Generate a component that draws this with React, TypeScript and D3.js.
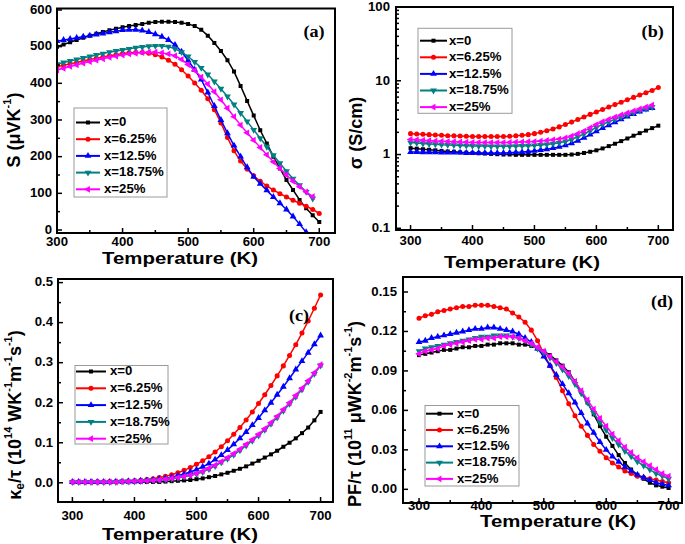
import React from 'react';
import * as d3 from 'd3';

const TEMPS = [300, 310, 320, 330, 340, 350, 360, 370, 380, 390, 400, 410, 420, 430, 440, 450, 460, 470, 480, 490, 500,
  510, 520, 530, 540, 550, 560, 570, 580, 590, 600, 610, 620, 630, 640, 650, 660, 670, 680, 690, 700];

const LABELS = ['x=0', 'x=6.25%', 'x=12.5%', 'x=18.75%', 'x=25%'];
const COLORS = ['#000000', '#ff0000', '#0000ff', '#008080', '#ff00ff'];
const SHAPES = ['square', 'circle', 'triUp', 'triDown', 'triLeft'];

const X_TICKS = [300, 400, 500, 600, 700];
const X_MINOR = [350, 450, 550, 650];

// (a) Seebeck coefficient S (µV/K)
const S_X0 = [500, 506, 512, 518, 524, 530, 535, 540, 545, 549, 553, 556, 559, 562, 565, 567, 568, 568, 567, 565,
  562, 556, 546, 530, 510, 488, 463, 432, 393, 352, 312, 272, 236, 200, 168, 136, 109, 82, 59, 40, 22];
const S_X625 = [445, 449, 453, 457, 461, 465, 468, 472, 475, 478, 481, 483, 484, 484, 482, 478, 472, 463, 452, 437,
  420, 401, 381, 358, 328, 292, 252, 216, 188, 166, 148, 133, 120, 109, 99, 90, 81, 73, 65, 56, 45];
const S_X125 = [515, 518, 521, 524, 527, 530, 533, 536, 539, 542, 545, 546, 546, 544, 540, 534, 527, 518, 505, 486,
  462, 437, 410, 375, 338, 300, 264, 230, 200, 171, 145, 126, 108, 90, 73, 56, 37, 16, -6];
const S_X1875 = [452, 457, 461, 465, 469, 473, 477, 481, 485, 488, 491, 494, 497, 499, 501, 502, 502, 500, 494, 485,
  473, 458, 442, 424, 405, 385, 364, 342, 319, 296, 273, 250, 227, 204, 182, 160, 140, 122, 104, 86];
const S_X25 = [436, 441, 446, 450, 455, 459, 463, 467, 471, 474, 477, 480, 482, 484, 485, 485, 483, 480, 475, 465,
  451, 435, 417, 398, 377, 355, 332, 309, 286, 265, 245, 225, 205, 186, 168, 150, 133, 118, 104, 91];

// (b) electrical conductivity sigma (S/cm)
const SIG_X0 = [1.22, 1.20, 1.18, 1.16, 1.14, 1.12, 1.10, 1.09, 1.07, 1.06, 1.05, 1.04, 1.03, 1.02, 1.01,
  1.00, 1.00, 0.99, 0.99, 0.99, 0.99, 0.99, 0.99, 0.99, 0.99, 0.99, 1.00, 1.02, 1.05, 1.09,
  1.14, 1.21, 1.30, 1.40, 1.52, 1.65, 1.80, 1.95, 2.11, 2.28, 2.46];
const SIG_X625 = [1.92, 1.90, 1.88, 1.86, 1.84, 1.82, 1.80, 1.79, 1.78, 1.77, 1.76, 1.76, 1.75, 1.75, 1.75,
  1.76, 1.77, 1.79, 1.82, 1.86, 1.92, 2.00, 2.10, 2.22, 2.37, 2.55, 2.75, 2.98, 3.23, 3.50,
  3.78, 4.08, 4.40, 4.75, 5.12, 5.52, 5.95, 6.40, 6.87, 7.40, 8.10];
const SIG_X125 = [1.08, 1.08, 1.07, 1.07, 1.07, 1.06, 1.06, 1.06, 1.06, 1.05, 1.05, 1.05, 1.05, 1.05, 1.05,
  1.05, 1.06, 1.07, 1.08, 1.10, 1.12, 1.15, 1.18, 1.22, 1.27, 1.33, 1.42, 1.54, 1.68, 1.86,
  2.06, 2.28, 2.50, 2.74, 3.00, 3.28, 3.55, 3.82, 4.06, 4.28];
const SIG_X1875 = [1.45, 1.43, 1.41, 1.39, 1.38, 1.36, 1.35, 1.34, 1.33, 1.32, 1.31, 1.30, 1.30, 1.29, 1.29,
  1.29, 1.29, 1.30, 1.31, 1.32, 1.33, 1.35, 1.37, 1.40, 1.44, 1.50, 1.60, 1.74, 1.90, 2.10,
  2.33, 2.56, 2.78, 3.00, 3.22, 3.45, 3.70, 3.95, 4.18, 4.40];
const SIG_X25 = [1.60, 1.58, 1.56, 1.54, 1.52, 1.51, 1.50, 1.49, 1.48, 1.47, 1.46, 1.46, 1.45, 1.45, 1.45,
  1.45, 1.46, 1.47, 1.48, 1.49, 1.50, 1.52, 1.55, 1.58, 1.62, 1.68, 1.78, 1.92, 2.08, 2.30,
  2.55, 2.78, 3.00, 3.22, 3.44, 3.66, 3.90, 4.15, 4.40, 4.68];

// (c) electronic thermal conductivity kappa_e / tau
const KE_X0 = [0.002, 0.002, 0.002, 0.002, 0.002, 0.002, 0.002, 0.002, 0.002, 0.002, 0.002, 0.002, 0.002, 0.002, 0.002,
  0.003, 0.004, 0.005, 0.006, 0.007, 0.009, 0.011, 0.014, 0.017, 0.021, 0.025, 0.030, 0.035, 0.041, 0.048,
  0.055, 0.063, 0.071, 0.080, 0.090, 0.100, 0.111, 0.124, 0.138, 0.156, 0.177];
const KE_X625 = [0.002, 0.002, 0.002, 0.002, 0.002, 0.002, 0.003, 0.003, 0.004, 0.004, 0.005, 0.006, 0.008, 0.010, 0.013,
  0.016, 0.020, 0.025, 0.031, 0.038, 0.046, 0.055, 0.065, 0.077, 0.090, 0.105, 0.121, 0.138, 0.157, 0.177,
  0.198, 0.220, 0.243, 0.267, 0.292, 0.318, 0.345, 0.374, 0.404, 0.436, 0.469];
const KE_X125 = [0.002, 0.002, 0.002, 0.002, 0.002, 0.002, 0.002, 0.003, 0.003, 0.004, 0.004, 0.005, 0.006, 0.007, 0.009,
  0.011, 0.014, 0.018, 0.022, 0.027, 0.033, 0.040, 0.048, 0.058, 0.069, 0.082, 0.096, 0.111, 0.127, 0.144,
  0.162, 0.181, 0.200, 0.220, 0.240, 0.261, 0.283, 0.304, 0.325, 0.346, 0.368];
const KE_X1875 = [0.002, 0.002, 0.002, 0.002, 0.002, 0.002, 0.002, 0.002, 0.003, 0.003, 0.003, 0.004, 0.005, 0.006, 0.007,
  0.008, 0.010, 0.012, 0.015, 0.018, 0.022, 0.027, 0.034, 0.042, 0.051, 0.060, 0.070, 0.081, 0.093, 0.105,
  0.118, 0.132, 0.147, 0.163, 0.180, 0.197, 0.215, 0.233, 0.252, 0.272, 0.293];
const KE_X25 = [0.002, 0.002, 0.002, 0.002, 0.002, 0.002, 0.002, 0.002, 0.003, 0.003, 0.004, 0.004, 0.005, 0.006, 0.007,
  0.009, 0.011, 0.013, 0.016, 0.019, 0.023, 0.029, 0.036, 0.044, 0.053, 0.063, 0.073, 0.084, 0.096, 0.108,
  0.121, 0.135, 0.150, 0.166, 0.183, 0.200, 0.218, 0.236, 0.255, 0.275, 0.295];

// (d) power factor PF / tau
const PF_X0 = [0.102, 0.103, 0.104, 0.105, 0.106, 0.106, 0.107, 0.108, 0.108, 0.109, 0.109, 0.110, 0.110, 0.111, 0.111,
  0.111, 0.110, 0.110, 0.109, 0.107, 0.105, 0.102, 0.098, 0.094, 0.089, 0.082, 0.074, 0.066, 0.057, 0.048,
  0.040, 0.033, 0.026, 0.020, 0.015, 0.011, 0.008, 0.005, 0.003, 0.002, 0.001];
const PF_X625 = [0.130, 0.132, 0.133, 0.135, 0.136, 0.137, 0.138, 0.139, 0.139, 0.140, 0.140, 0.140, 0.139, 0.138, 0.137,
  0.134, 0.131, 0.127, 0.121, 0.113, 0.103, 0.094, 0.085, 0.075, 0.065, 0.056, 0.048, 0.041, 0.034, 0.029,
  0.024, 0.020, 0.017, 0.014, 0.012, 0.010, 0.009, 0.008, 0.007, 0.006, 0.005];
const PF_X125 = [0.112, 0.113, 0.115, 0.116, 0.117, 0.118, 0.119, 0.120, 0.121, 0.122, 0.122, 0.123, 0.123, 0.122, 0.121,
  0.120, 0.118, 0.115, 0.112, 0.107, 0.101, 0.094, 0.087, 0.080, 0.073, 0.066, 0.058, 0.050, 0.043, 0.036,
  0.030, 0.025, 0.021, 0.017, 0.014, 0.011, 0.009, 0.007, 0.005, 0.004, 0.003];
const PF_X1875 = [0.105, 0.107, 0.108, 0.109, 0.110, 0.111, 0.112, 0.113, 0.114, 0.115, 0.116, 0.116, 0.117, 0.117, 0.117,
  0.116, 0.115, 0.113, 0.110, 0.107, 0.104, 0.100, 0.096, 0.091, 0.086, 0.080, 0.073, 0.066, 0.058, 0.051,
  0.045, 0.039, 0.034, 0.029, 0.025, 0.021, 0.018, 0.015, 0.012, 0.010, 0.008];
const PF_X25 = [0.103, 0.105, 0.106, 0.107, 0.109, 0.110, 0.111, 0.112, 0.113, 0.114, 0.114, 0.115, 0.115, 0.116, 0.116,
  0.116, 0.115, 0.113, 0.111, 0.108, 0.105, 0.101, 0.097, 0.093, 0.088, 0.082, 0.075, 0.068, 0.061, 0.054,
  0.048, 0.042, 0.037, 0.032, 0.028, 0.024, 0.021, 0.018, 0.015, 0.012, 0.010];

const SANS = '"Liberation Sans", Arial, Helvetica, sans-serif';
const SERIF = '"Liberation Serif", "Times New Roman", serif';

function Txt({ x, y, size, anchor = 'middle', family = SANS, rotate = false, sx = 1.1, children }: any) {
  return (
    <text
      transform={`translate(${x},${y}) scale(${sx},1)${rotate ? ' rotate(-90)' : ''}`}
      fontSize={size}
      fontFamily={family}
      fontWeight="bold"
      textAnchor={anchor}
      dominantBaseline="central"
      fill="#000"
    >
      {children}
    </text>
  );
}

function Marker({ shape, x, y, color }: any) {
  const sym = shape === 'square' ? d3.symbolSquare : shape === 'circle' ? d3.symbolCircle : d3.symbolTriangle;
  const size = shape === 'square' ? 16 : 20;
  const rot = shape === 'triDown' ? 180 : shape === 'triLeft' ? -90 : 0;
  const d = d3.symbol(sym, size)() as string;
  return <path d={d} transform={`translate(${x},${y}) rotate(${rot})`} fill={color} />;
}

function Panel({ cfg, id }: any) {
  const { box, xDomain, yDomain, log, yTicks, yMinor, fmt, series, legend } = cfg;
  const x = d3.scaleLinear().domain(xDomain).range([box.x0, box.x1]);
  const y = (log ? d3.scaleLog() : d3.scaleLinear()).domain(yDomain).range([box.y1, box.y0]);
  const line = d3.line<number>().x((_, i) => x(TEMPS[i])).y((v) => y(v));
  const clipId = `clip-${id}`;
  return (
    <g>
      <defs>
        <clipPath id={clipId}>
          <rect x={box.x0} y={box.y0} width={box.x1 - box.x0} height={box.y1 - box.y0} />
        </clipPath>
      </defs>
      <g clipPath={`url(#${clipId})`}>
        {series.map((s: number[], k: number) => (
          <g key={k}>
            <path d={line(s) as string} fill="none" stroke={COLORS[k]} strokeWidth={1.5} />
            {s.map((v, i) => (
              <Marker key={i} shape={SHAPES[k]} x={x(TEMPS[i])} y={y(v)} color={COLORS[k]} />
            ))}
          </g>
        ))}
      </g>
      {X_TICKS.map((t) => (
        <g key={'xt' + t}>
          <line x1={x(t)} x2={x(t)} y1={box.y1} y2={box.y1 - 5} stroke="#000" strokeWidth={1.5} />
          <Txt x={x(t)} y={cfg.xLabelY} size={12}>{t}</Txt>
        </g>
      ))}
      {X_MINOR.map((t) => (
        <line key={'xm' + t} x1={x(t)} x2={x(t)} y1={box.y1} y2={box.y1 - 3} stroke="#000" strokeWidth={1.5} />
      ))}
      {yTicks.map((t: number) => (
        <g key={'yt' + t}>
          <line x1={box.x0} x2={box.x0 + 5} y1={y(t)} y2={y(t)} stroke="#000" strokeWidth={1.5} />
          <Txt x={cfg.yLabelX} y={y(t)} size={12} anchor="end">{fmt(t)}</Txt>
        </g>
      ))}
      {yMinor.map((t: number) => (
        <line key={'ym' + t} x1={box.x0} x2={box.x0 + 3} y1={y(t)} y2={y(t)} stroke="#000" strokeWidth={1.5} />
      ))}
      <rect x={box.x0} y={box.y0} width={box.x1 - box.x0} height={box.y1 - box.y0} fill="none" stroke="#000" strokeWidth={2} />
      <rect x={legend.x0} y={legend.y0} width={legend.x1 - legend.x0} height={legend.y1 - legend.y0} fill="#fff" stroke="#9a9a9a" strokeWidth={1} />
      {LABELS.map((lab, k) => {
        const ry = legend.row0 + k * legend.step;
        return (
          <g key={'lg' + k}>
            <line x1={legend.l0} x2={legend.l1} y1={ry} y2={ry} stroke={COLORS[k]} strokeWidth={2} />
            <Marker shape={SHAPES[k]} x={(legend.l0 + legend.l1) / 2} y={ry} color={COLORS[k]} />
            <Txt x={legend.tx} y={ry} size={12} anchor="start">{lab}</Txt>
          </g>
        );
      })}
      <Txt x={cfg.xTitle[0]} y={cfg.xTitle[1]} size={17} sx={1.2}>Temperature (K)</Txt>
      <Txt x={cfg.yTitle[0]} y={cfg.yTitle[1]} size={18} sx={1.0} rotate>{cfg.yTitleContent}</Txt>
      <Txt x={cfg.label[0]} y={cfg.label[1]} size={16.5} family={SERIF}>{cfg.label[2]}</Txt>
    </g>
  );
}

const PANELS = [
  {
    box: { x0: 57, x1: 335, y0: 8.5, y1: 233 },
    xDomain: [300, 724], yDomain: [-8.2, 604], log: false,
    yTicks: [0, 100, 200, 300, 400, 500, 600], yMinor: [50, 150, 250, 350, 450, 550],
    fmt: (d: number) => String(d),
    series: [S_X0, S_X625, S_X125, S_X1875, S_X25],
    legend: { x0: 74, y0: 108, x1: 167, y1: 197, row0: 122.5, step: 16.7, l0: 76, l1: 100, tx: 104 },
    xLabelY: 242, yLabelX: 52, xTitle: [180, 258], yTitle: [14, 130], label: [314, 32, '(a)'],
    yTitleContent: (
      <>
        <tspan>S (μVK</tspan>
        <tspan dy={-7} fontSize={11}>-1</tspan>
        <tspan dy={7}>)</tspan>
      </>
    ),
  },
  {
    box: { x0: 396, x1: 673, y0: 7, y1: 230 },
    xDomain: [276.5, 723.7], yDomain: [0.0948, 100], log: true,
    yTicks: [0.1, 1, 10, 100],
    yMinor: [0.2, 0.3, 0.4, 0.5, 0.6, 0.7, 0.8, 0.9, 2, 3, 4, 5, 6, 7, 8, 9, 20, 30, 40, 50, 60, 70, 80, 90],
    fmt: (d: number) => String(d),
    series: [SIG_X0, SIG_X625, SIG_X125, SIG_X1875, SIG_X25],
    legend: { x0: 418, y0: 28.3, x1: 512, y1: 113.3, row0: 40.7, step: 16.6, l0: 420, l1: 447, tx: 449 },
    xLabelY: 241, yLabelX: 390, xTitle: [522, 262], yTitle: [355.5, 133], label: [652.7, 32, '(b)'],
    yTitleContent: <tspan>σ (S/cm)</tspan>,
  },
  {
    box: { x0: 58, x1: 333, y0: 279, y1: 502 },
    xDomain: [276.8, 720], yDomain: [-0.048, 0.509], log: false,
    yTicks: [0, 0.1, 0.2, 0.3, 0.4, 0.5], yMinor: [0.05, 0.15, 0.25, 0.35, 0.45],
    fmt: (d: number) => d.toFixed(1),
    series: [KE_X0, KE_X625, KE_X125, KE_X1875, KE_X25],
    legend: { x0: 75, y0: 365.5, x1: 168, y1: 444, row0: 371.5, step: 16.8, l0: 76, l1: 106, tx: 110 },
    xLabelY: 516, yLabelX: 53, xTitle: [180, 534], yTitle: [15, 415], label: [299, 316, '(c)'],
    yTitleContent: (
      <>
        <tspan>κ</tspan>
        <tspan dy={5} fontSize={12}>e</tspan>
        <tspan dy={-5}>/τ (10</tspan>
        <tspan dy={-7} fontSize={11}>14</tspan>
        <tspan dy={7}> WK</tspan>
        <tspan dy={-7} fontSize={11}>-1</tspan>
        <tspan dy={7}>m</tspan>
        <tspan dy={-7} fontSize={11}>-1</tspan>
        <tspan dy={7}>s</tspan>
        <tspan dy={-7} fontSize={11}>-1</tspan>
        <tspan dy={7}>)</tspan>
      </>
    ),
  },
  {
    box: { x0: 403, x1: 682, y0: 277, y1: 503 },
    xDomain: [274.3, 721.5], yDomain: [-0.0104, 0.1614], log: false,
    yTicks: [0, 0.03, 0.06, 0.09, 0.12, 0.15], yMinor: [0.015, 0.045, 0.075, 0.105, 0.135],
    fmt: (d: number) => d.toFixed(2),
    series: [PF_X0, PF_X625, PF_X125, PF_X1875, PF_X25],
    legend: { x0: 425, y0: 405.5, x1: 519, y1: 486, row0: 413.7, step: 16.3, l0: 426, l1: 453, tx: 457 },
    xLabelY: 506, yLabelX: 397, xTitle: [558, 521], yTitle: [355, 414], label: [662, 302, '(d)'],
    yTitleContent: (
      <>
        <tspan>PF/τ (10</tspan>
        <tspan dy={-7} fontSize={11}>11</tspan>
        <tspan dy={7}> μWK</tspan>
        <tspan dy={-7} fontSize={11}>-2</tspan>
        <tspan dy={7}>m</tspan>
        <tspan dy={-7} fontSize={11}>-1</tspan>
        <tspan dy={7}>s</tspan>
        <tspan dy={-7} fontSize={11}>-1</tspan>
        <tspan dy={7}>)</tspan>
      </>
    ),
  },
];

export default function App() {
  return (
    <svg width={685} height={544} style={{ position: 'absolute', left: 0, top: 0, background: '#fff' }}>
      <rect x={0} y={0} width={685} height={544} fill="#fff" />
      {PANELS.map((p, i) => (
        <Panel key={i} cfg={p} id={i} />
      ))}
    </svg>
  );
}
